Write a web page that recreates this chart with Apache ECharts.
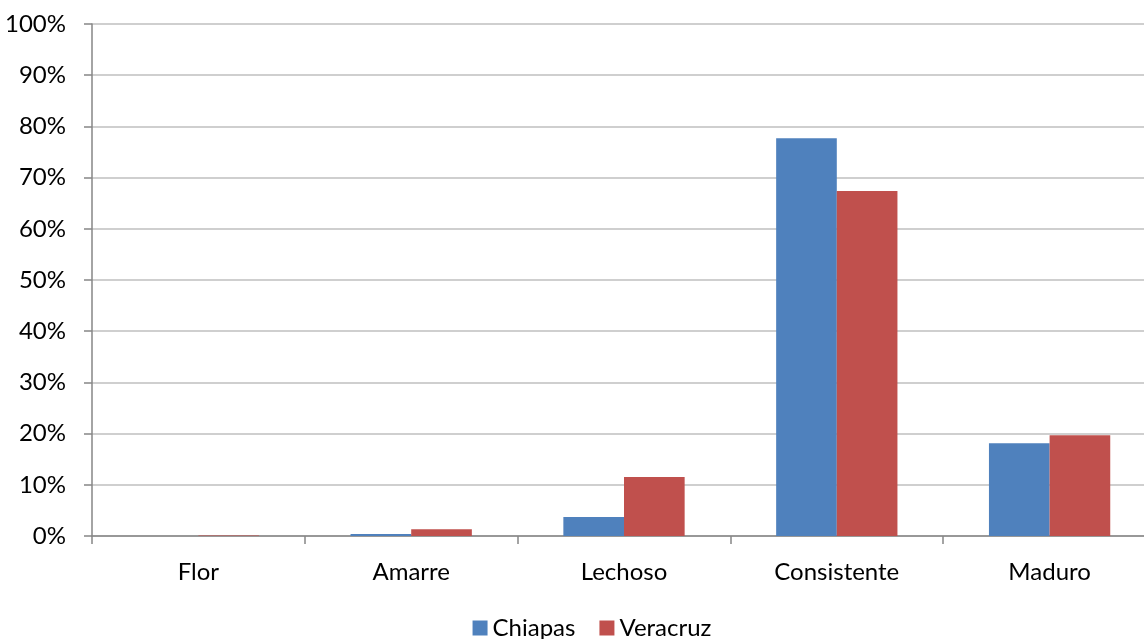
<!DOCTYPE html>
<html>
<head>
<meta charset="utf-8">
<script src="https://cdn.jsdelivr.net/npm/echarts@6/dist/echarts.min.js"></script>
<style>
  html, body { margin: 0; padding: 0; background: #ffffff; overflow: hidden; }
  #wrap { width: 1144px; height: 639px; overflow: hidden; }
  /* canvas is larger than the window; its right and bottom edges are cropped */
  #chart { width: 1184px; height: 650px; }
</style>
</head>
<body>
<div id="wrap"><div id="chart"></div></div>
<script>
// Fruit stage shares per state (percent)
const categories = ['Flor', 'Amarre', 'Lechoso', 'Consistente', 'Maduro'];
const chiapas = [0, 0.4, 3.7, 77.7, 18.1];
const veracruz = [0.1, 1.3, 11.5, 67.4, 19.7];
const seriesNames = ['Chiapas', 'Veracruz'];
const yTicks = [0, 10, 20, 30, 40, 50, 60, 70, 80, 90, 100];

const FONT = 'Lato, "Open Sans", sans-serif';
const chart = echarts.init(document.getElementById('chart'), null, { renderer: 'canvas' });

chart.setOption({
  animation: false,
  backgroundColor: '#ffffff',
  grid: { left: 92, right: 28, top: 24, height: 512, containLabel: false },
  legend: {
    data: seriesNames,
    top: 616,
    left: 'center',
    padding: 0,
    itemWidth: 15,
    itemHeight: 15,
    itemGap: 24,
    icon: 'rect',
    textStyle: { fontFamily: FONT, fontSize: 24, color: '#000000' }
  },
  xAxis: {
    type: 'category',
    data: categories,
    axisLine: { lineStyle: { color: '#868686', width: 1.5 } },
    axisTick: { show: true, length: 8, alignWithLabel: false, lineStyle: { color: '#868686', width: 1.5 } },
    axisLabel: { margin: 24, fontFamily: FONT, fontSize: 24, color: '#000000' },
    splitLine: { show: false }
  },
  yAxis: {
    type: 'value',
    min: yTicks[0],
    max: yTicks[yTicks.length - 1],
    interval: 10,
    axisLine: { show: true, lineStyle: { color: '#868686', width: 1.5 } },
    axisTick: { show: true, length: 8, lineStyle: { color: '#868686', width: 1.5 } },
    axisLabel: { margin: 26, fontFamily: FONT, fontSize: 24, color: '#000000', formatter: v => v + '%' },
    splitLine: { show: true, lineStyle: { color: '#BFBFBF', width: 1.5 } }
  },
  series: [
    {
      name: seriesNames[0],
      type: 'bar',
      data: chiapas,
      barGap: '0%',
      barCategoryGap: '43%',
      itemStyle: { color: '#4F81BD' }
    },
    {
      name: seriesNames[1],
      type: 'bar',
      data: veracruz,
      barGap: '0%',
      barCategoryGap: '43%',
      itemStyle: { color: '#C0504D' }
    }
  ]
});
</script>
</body>
</html>
